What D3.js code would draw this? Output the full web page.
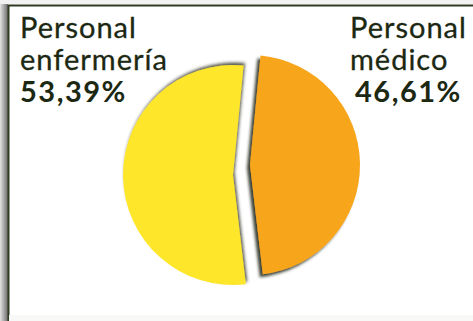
<!DOCTYPE html>
<html>
<head>
<meta charset="utf-8">
<script src="https://cdn.jsdelivr.net/npm/d3@7/dist/d3.min.js"></script>
<style>
  html, body { margin: 0; padding: 0; background: #fff; }
  svg { display: block; }
</style>
</head>
<body>
<script>
// Distribución del personal sanitario
const categories = ["Personal médico", "Personal enfermería"];
const values = [46.61, 53.39];
const labelLines = [["Personal", "médico"], ["Personal", "enfermería"]];
const valueLabels = ["46,61%", "53,39%"];

const W = 473, H = 321;
const colors = ["#f7a61f", "#fee62a"];
const ink = "#1c2812";

const svg = d3.select("body").append("svg")
  .attr("width", W).attr("height", H);

const defs = svg.append("defs");
// frame shadow on the left edge
const g1 = defs.append("linearGradient").attr("id", "frameShade")
  .attr("x1", 0).attr("x2", 1).attr("y1", 0).attr("y2", 0);
g1.append("stop").attr("offset", "0%").attr("stop-color", "#e4e4e4");
g1.append("stop").attr("offset", "60%").attr("stop-color", "#9a9a9a");
g1.append("stop").attr("offset", "100%").attr("stop-color", "#6a6a6a");

// drop shadows for the two slices
const fOrange = defs.append("filter").attr("id", "shadowOrange")
  .attr("x", "-20%").attr("y", "-20%").attr("width", "140%").attr("height", "140%");
fOrange.append("feDropShadow").attr("dx", -3).attr("dy", 3)
  .attr("stdDeviation", 1.8).attr("flood-color", "#18220e").attr("flood-opacity", 0.85);
const fYellow = defs.append("filter").attr("id", "shadowYellow")
  .attr("x", "-20%").attr("y", "-20%").attr("width", "140%").attr("height", "140%");
fYellow.append("feDropShadow").attr("dx", 1.5).attr("dy", -2.5)
  .attr("stdDeviation", 1.5).attr("flood-color", "#2e3024").attr("flood-opacity", 0.8);

// frame
svg.append("rect").attr("x", 0).attr("y", 0).attr("width", W).attr("height", H).attr("fill", "#fff");
svg.append("rect").attr("x", 0).attr("y", 4).attr("width", 8).attr("height", H - 4).attr("fill", "url(#frameShade)");
svg.append("rect").attr("x", 0).attr("y", 0).attr("width", W).attr("height", 4).attr("fill", "#f2f2f2");
svg.append("line").attr("x1", 8).attr("x2", W).attr("y1", 5.5).attr("y2", 5.5)
  .attr("stroke", "#2e3a22").attr("stroke-width", 2);
svg.append("line").attr("x1", 8.5).attr("x2", 8.5).attr("y1", 5).attr("y2", H)
  .attr("stroke", "#2e3a22").attr("stroke-width", 2);
svg.append("rect").attr("x", 9).attr("y", 315).attr("width", W - 9).attr("height", 6).attr("fill", "#f8f8f6");

// pie
const cx = 241.5, cy = 170, r = 110;
const explode = [[8.5, -5], [-8.5, 5]];
const pie = d3.pie().sort(null).startAngle(5.5 * Math.PI / 180)
  .endAngle(5.5 * Math.PI / 180 + 2 * Math.PI);
const arc = d3.arc().innerRadius(0).outerRadius(r);
const arcs = pie(values);

const pieG = svg.append("g").attr("transform", `translate(${cx},${cy})`);
pieG.selectAll("path").data(arcs).join("path")
  .attr("transform", (d, i) => `translate(${explode[i][0]},${explode[i][1]})`)
  .attr("d", arc)
  .attr("fill", (d, i) => colors[i])
  .attr("filter", (d, i) => i === 0 ? "url(#shadowOrange)" : "url(#shadowYellow)");

// labels
const labelPos = [[350, 38], [20, 38]];
const numberIndent = [5, 0];
const font = "Lato, 'Open Sans', sans-serif";
const lh = 32;
labelLines.forEach((lines, i) => {
  const [x, y] = labelPos[i];
  lines.forEach((t, k) => {
    svg.append("text").attr("x", x).attr("y", y + k * lh)
      .attr("font-family", font).attr("font-size", 29).attr("fill", ink)
      .attr("letter-spacing", 1).attr("stroke", ink).attr("stroke-width", 0.3)
      .text(t);
  });
  svg.append("text").attr("x", x + numberIndent[i]).attr("y", y + 2 * lh)
    .attr("font-family", font).attr("font-size", 29).attr("font-weight", 700)
    .attr("letter-spacing", 1.5).attr("fill", ink).text(valueLabels[i]);
});
</script>
</body>
</html>
